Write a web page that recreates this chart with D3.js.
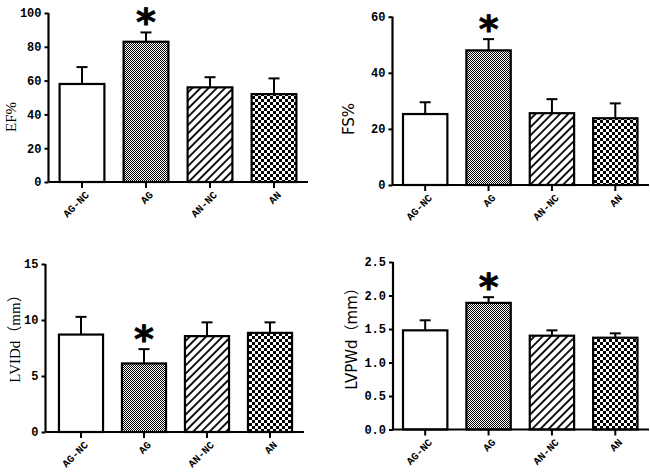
<!DOCTYPE html>
<html><head><meta charset="utf-8">
<script src="https://cdn.jsdelivr.net/npm/d3@7"></script>
<style>html,body{margin:0;padding:0;background:#fff;}</style>
</head><body>
<svg id="c" width="650" height="472"></svg>
<script>
const categories = ["AG-NC", "AG", "AN-NC", "AN"];
const efMean = [58, 83, 56, 52];
const efErr = [10, 5.5, 6, 9.3];
const fsMean = [25.3, 48, 25.6, 23.8];
const fsErr = [4.2, 4, 5, 5.3];
const lvidMean = [8.7, 6.12, 8.56, 8.85];
const lvidErr = [1.58, 1.28, 1.23, 0.94];
const lvpwMean = [1.48, 1.89, 1.40, 1.37];
const lvpwErr = [0.15, 0.085, 0.08, 0.065];
const efTicks = [0, 20, 40, 60, 80, 100];
const fsTicks = [0, 20, 40, 60];
const lvidTicks = [0, 5, 10, 15];
const lvpwTicks = ["0.0", "0.5", "1.0", "1.5", "2.0", "2.5"];
const sigFlags = [false, true, false, false];
const fills = ["white", "url(#fine)", "url(#diag)", "url(#coarse)"];

const svg = d3.select("#c");
const defs = svg.append("defs");
const p1 = defs.append("pattern").attr("id","fine").attr("patternUnits","userSpaceOnUse").attr("width",2).attr("height",2);
p1.append("rect").attr("width",2).attr("height",2).attr("fill","#fff");
p1.append("rect").attr("x",0).attr("y",0).attr("width",1).attr("height",1).attr("fill","#000");
p1.append("rect").attr("x",1).attr("y",1).attr("width",1).attr("height",1).attr("fill","#000");
const p2 = defs.append("pattern").attr("id","diag").attr("patternUnits","userSpaceOnUse").attr("width",5.8).attr("height",5.8).attr("patternTransform","rotate(45)");
p2.append("rect").attr("width",5.8).attr("height",5.8).attr("fill","#fff");
p2.append("line").attr("x1",1).attr("y1",0).attr("x2",1).attr("y2",5.8).attr("stroke","#000").attr("stroke-width",1.8);
const p3 = defs.append("pattern").attr("id","coarse").attr("patternUnits","userSpaceOnUse").attr("width",6).attr("height",6);
p3.append("rect").attr("width",6).attr("height",6).attr("fill","#fff");
p3.append("rect").attr("x",0).attr("y",0).attr("width",3).attr("height",3).attr("fill","#000");
p3.append("rect").attr("x",3).attr("y",3).attr("width",3).attr("height",3).attr("fill","#000");

const panels = [
  {mean: efMean, err: efErr, ticks: efTicks, dom: [0,100], ax: 48.5, y0: 182, yTop: 13, xr: [50, 306], xEnd: 308,
   label: "EF%", lx: 11, ly: 117, lfont: "'Liberation Serif', serif"},
  {mean: fsMean, err: fsErr, ticks: fsTicks, dom: [0,60], ax: 392.5, y0: 185, yTop: 16.7, xr: [393.5, 647], xEnd: 649,
   label: "FS%", lx: 349, ly: 119, lfont: "'DejaVu Sans', sans-serif"},
  {mean: lvidMean, err: lvidErr, ticks: lvidTicks, dom: [0,15], ax: 45.5, y0: 432, yTop: 264, xr: [49.5, 301.5], xEnd: 304,
   label: "LVIDd（mm）", lx: 15, ly: 335, lfont: "'Liberation Serif', 'Noto Sans CJK SC', serif"},
  {mean: lvpwMean, err: lvpwErr, ticks: lvpwTicks, dom: [0,2.5], ax: 393, y0: 429.5, yTop: 262, xr: [393.5, 647], xEnd: 649,
   label: "LVPWd（mm）", lx: 352, ly: 335, lfont: "'DejaVu Sans', 'Noto Sans CJK SC', sans-serif"}
];

panels.forEach(p => {
  const g = svg.append("g");
  const y = d3.scaleLinear().domain(p.dom).range([p.y0, p.yTop]);
  const x = d3.scaleBand().domain(categories).range(p.xr).paddingInner(0.3).paddingOuter(0.15);

  g.selectAll("rect.bar").data(categories).join("rect")
    .attr("x", d => x(d)).attr("width", x.bandwidth())
    .attr("y", (d,i) => y(p.mean[i])).attr("height", (d,i) => p.y0 - y(p.mean[i]))
    .attr("fill", (d,i) => fills[i]).attr("stroke", "#000").attr("stroke-width", 2.2);

  categories.forEach((c,i) => {
    const cx = x(c) + x.bandwidth()/2;
    const yt = y(p.mean[i] + p.err[i]);
    g.append("line").attr("x1", cx).attr("x2", cx).attr("y1", y(p.mean[i])).attr("y2", yt)
      .attr("stroke","#000").attr("stroke-width",2);
    g.append("line").attr("x1", cx-5.5).attr("x2", cx+5.5).attr("y1", yt).attr("y2", yt)
      .attr("stroke","#000").attr("stroke-width",2);
    if (sigFlags[i]) {
      g.append("text").attr("x", cx).attr("y", yt - 21).attr("dy", "0.62em")
        .attr("text-anchor","middle").attr("font-family","'DejaVu Sans', sans-serif")
        .attr("font-weight","bold").attr("font-size", 38).attr("stroke","#000").attr("stroke-width",0.8).text("*");
    }
  });

  const yAxis = d3.axisLeft(y).tickValues(p.ticks.map(Number)).tickSize(4).tickPadding(3)
    .tickFormat((d,i) => String(p.ticks[i]));
  const ya = g.append("g").attr("transform", `translate(${p.ax},0)`).call(yAxis);
  ya.select(".domain").attr("stroke-width",2.2).attr("d", `M0,${p.y0}V${p.yTop}`);
  ya.selectAll(".tick line").attr("stroke-width",2);
  ya.selectAll(".tick text").style("font-family","'Liberation Mono', monospace").style("font-weight","bold").style("font-size","12px").attr("fill","#000");

  const xAxis = d3.axisBottom(x).tickSize(6).tickSizeOuter(0).tickFormat(() => "");
  const xa = g.append("g").attr("transform", `translate(0,${p.y0})`).call(xAxis);
  xa.select(".domain").attr("stroke-width",2.2).attr("d", `M${p.ax},0H${p.xEnd}`);
  xa.selectAll(".tick line").attr("stroke-width",2);
  xa.selectAll(".tick text").remove();

  g.selectAll("text.xl").data(categories).join("text").attr("class","xl")
    .attr("transform", d => `translate(${x(d) + x.bandwidth()/2 + 5},${p.y0 + 11}) rotate(-45)`)
    .attr("fill","#000")
    .style("font-family","'Liberation Mono', monospace").style("font-weight","bold").style("font-size","10.5px")
    .attr("text-anchor","end").attr("dy","0.35em").text(d => d);

  g.append("text").attr("transform", `translate(${p.lx},${p.ly}) rotate(-90)`)
    .attr("text-anchor","middle").attr("dy","0.35em")
    .style("font-family", p.lfont).style("font-size", "15px").attr("fill","#000").text(p.label);
});
</script>
</body></html>
